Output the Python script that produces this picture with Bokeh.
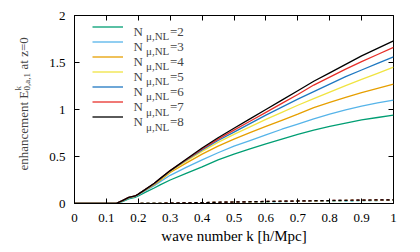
import math
from bokeh.plotting import figure
from bokeh.layouts import row
from bokeh.models import Label, Legend, LegendItem, LinearAxis, FixedTicker, CustomJSTickFormatter
from bokeh.core.properties import value
from bokeh.embed import file_html
from bokeh.resources import INLINE

# ---------------- data ----------------
k = [0, 0.05, 0.1, 0.13, 0.15, 0.17, 0.19, 0.2, 0.22, 0.25, 0.27, 0.3, 0.35, 0.4,
     0.45, 0.5, 0.55, 0.6, 0.65, 0.7, 0.75, 0.8, 0.85, 0.9, 0.95, 1.0]

e_n2 = [0, 0, 0, 0, 0.02, 0.05, 0.065, 0.08, 0.115, 0.165, 0.20, 0.25, 0.32, 0.39,
        0.465, 0.525, 0.58, 0.635, 0.685, 0.735, 0.78, 0.82, 0.855, 0.89, 0.915, 0.94]
e_n3 = [0, 0, 0, 0, 0.025, 0.058, 0.072, 0.09, 0.13, 0.19, 0.235, 0.30, 0.385, 0.465,
        0.54, 0.61, 0.67, 0.73, 0.79, 0.845, 0.90, 0.95, 0.995, 1.035, 1.07, 1.10]
e_n4 = [0, 0, 0, 0, 0.028, 0.062, 0.077, 0.096, 0.138, 0.20, 0.25, 0.33, 0.43, 0.525,
        0.61, 0.685, 0.755, 0.82, 0.885, 0.95, 1.02, 1.075, 1.13, 1.18, 1.225, 1.27]
e_n5 = [0, 0, 0, 0, 0.029, 0.063, 0.078, 0.098, 0.141, 0.207, 0.26, 0.34, 0.45, 0.555,
        0.65, 0.735, 0.815, 0.895, 0.97, 1.045, 1.115, 1.185, 1.255, 1.32, 1.385, 1.45]
e_n6 = [0, 0, 0, 0, 0.03, 0.064, 0.079, 0.099, 0.143, 0.21, 0.265, 0.345, 0.46, 0.57,
        0.67, 0.76, 0.85, 0.94, 1.025, 1.11, 1.19, 1.27, 1.35, 1.42, 1.49, 1.56]
e_n7 = [0, 0, 0, 0, 0.03, 0.065, 0.08, 0.10, 0.145, 0.213, 0.268, 0.35, 0.465, 0.58,
        0.685, 0.78, 0.875, 0.97, 1.065, 1.16, 1.26, 1.345, 1.43, 1.51, 1.585, 1.66]
e_n8 = [0, 0, 0, 0, 0.03, 0.065, 0.08, 0.10, 0.145, 0.215, 0.27, 0.35, 0.47, 0.59,
        0.70, 0.80, 0.90, 1.00, 1.10, 1.20, 1.30, 1.39, 1.48, 1.57, 1.65, 1.73]

# small dashed companion curves near zero
k_d = [0, 0.2, 0.3, 0.4, 0.5, 0.6, 0.7, 0.8, 0.9, 1.0]
d_n2 = [0, 0, 0.003, 0.008, 0.013, 0.018, 0.022, 0.026, 0.030, 0.033]
d_n3 = [0, 0, 0.003, 0.009, 0.014, 0.019, 0.024, 0.028, 0.032, 0.035]
d_n4 = [0, 0, 0.004, 0.009, 0.015, 0.020, 0.025, 0.030, 0.034, 0.037]
d_n5 = [0, 0, 0.004, 0.010, 0.015, 0.021, 0.026, 0.031, 0.035, 0.038]
d_n6 = [0, 0, 0.004, 0.010, 0.016, 0.021, 0.027, 0.031, 0.036, 0.039]
d_n7 = [0, 0, 0.004, 0.010, 0.016, 0.022, 0.027, 0.032, 0.036, 0.040]
d_n8 = [0, 0, 0.004, 0.010, 0.016, 0.022, 0.027, 0.032, 0.036, 0.040]

n_values = ["2", "3", "4", "5", "6", "7", "8"]
colors = ["#009e73", "#56b4e9", "#e69f00", "#f0e442", "#1f78c1", "#e8302a", "#000000"]
series = [e_n2, e_n3, e_n4, e_n5, e_n6, e_n7, e_n8]
dashed = [d_n2, d_n3, d_n4, d_n5, d_n6, d_n7, d_n8]

x_ticks = [0, 0.1, 0.2, 0.3, 0.4, 0.5, 0.6, 0.7, 0.8, 0.9, 1.0]
x_tick_labels = ["0", "0.1", "0.2", "0.3", "0.4", "0.5", "0.6", "0.7", "0.8", "0.9", "1"]
y_ticks = [0, 0.5, 1.0, 1.5, 2.0]
y_tick_labels = ["0", "0.5", "1", "1.5", "2"]

FONT = "'Liberation Serif', 'Times New Roman', serif"

# ---------------- y label panel ----------------
lf = figure(width=40, height=252, x_range=(0, 1), y_range=(0, 1),
            output_backend="svg", toolbar_location=None,
            min_border_left=0, min_border_right=0, min_border_top=15, min_border_bottom=49)
lf.axis.visible = False
lf.grid.visible = False
lf.outline_line_color = None

ang = math.pi / 2
lf.add_layout(Label(x=23, y=33, x_units="screen", y_units="screen", angle=ang,
                    text="enhancement E", text_font=FONT, text_font_size="13px",
                    text_baseline="alphabetic"))
lf.add_layout(Label(x=26, y=113, x_units="screen", y_units="screen", angle=ang,
                    text="0,a,1", text_font=FONT, text_font_size="9px",
                    text_baseline="alphabetic"))
lf.add_layout(Label(x=17, y=113, x_units="screen", y_units="screen", angle=ang,
                    text="k", text_font=FONT, text_font_size="9px",
                    text_baseline="alphabetic"))
lf.add_layout(Label(x=23, y=134, x_units="screen", y_units="screen", angle=ang,
                    text="at z=0", text_font=FONT, text_font_size="13px",
                    text_baseline="alphabetic"))

# ---------------- main figure ----------------
p = figure(width=380, height=252, x_range=(0, 1), y_range=(0, 2),
           output_backend="svg", toolbar_location=None,
           min_border_left=34, min_border_right=27, min_border_top=15, min_border_bottom=49)
p.grid.visible = False
p.outline_line_color = "black"
p.outline_line_width = 1

for ax, ticks, labels in ((p.xaxis[0], x_ticks, x_tick_labels), (p.yaxis[0], y_ticks, y_tick_labels)):
    ax.ticker = FixedTicker(ticks=ticks)
    ax.major_label_overrides = {t: l for t, l in zip(ticks, labels)}
    ax.major_tick_in = 5
    ax.major_tick_out = 0
    ax.minor_tick_line_color = None
    ax.axis_line_color = "black"
    ax.major_tick_line_color = "black"
    ax.major_label_text_font = FONT
    ax.major_label_text_font_size = "13px"
    ax.major_label_text_color = "black"
p.xaxis[0].major_label_standoff = 10
p.yaxis[0].major_label_standoff = 9
p.xaxis[0].axis_label = "wave number k [h/Mpc]"
p.xaxis[0].axis_label_text_font = FONT
p.xaxis[0].axis_label_text_font_size = "15px"
p.xaxis[0].axis_label_text_font_style = "normal"
p.xaxis[0].axis_label_text_color = "black"
p.xaxis[0].axis_label_standoff = 3

blank = CustomJSTickFormatter(code="return ''")
top = LinearAxis(ticker=FixedTicker(ticks=x_ticks), formatter=blank, major_tick_in=5,
                 major_tick_out=0, minor_tick_line_color=None, axis_line_color=None,
                 major_label_text_font_size="0px", major_label_standoff=0)
right = LinearAxis(ticker=FixedTicker(ticks=y_ticks), formatter=blank, major_tick_in=5,
                   major_tick_out=0, minor_tick_line_color=None, axis_line_color=None,
                   major_label_text_font_size="0px", major_label_standoff=0)
p.add_layout(top, "above")
p.add_layout(right, "right")

items = []
for dvals, c in zip(dashed, colors):
    p.line(k_d, dvals, line_color=c, line_width=1.2, line_dash="3 3")
for vals, c in zip(series, colors):
    r = p.line(k, vals, line_color=c, line_width=1.3)
    items.append(LegendItem(label=value(""), renderers=[r]))

legend = Legend(items=items, location=(18, 79.5), padding=0, margin=0, spacing=0,
                glyph_width=31, glyph_height=15, label_height=15, label_width=0,
                label_standoff=0, label_text_font=FONT, label_text_font_size="8px",
                border_line_color=None, background_fill_alpha=0)
p.add_layout(legend, "center")

# legend texts: N with subscript, then value
for i, n in enumerate(n_values):
    yb = 172.5 - 15.1 * i
    p.add_layout(Label(x=59, y=yb, x_units="screen", y_units="screen", text="N",
                       text_font=FONT, text_font_size="13px", text_baseline="alphabetic"))
    p.add_layout(Label(x=71.5, y=yb - 5, x_units="screen", y_units="screen", text="μ,NL",
                       text_font=FONT, text_font_size="11px", text_baseline="alphabetic"))
    p.add_layout(Label(x=95.5, y=yb, x_units="screen", y_units="screen", text="=" + n,
                       text_font=FONT, text_font_size="13px", text_baseline="alphabetic"))

open("out.html", "w").write(file_html(row(lf, p, spacing=0), INLINE))
